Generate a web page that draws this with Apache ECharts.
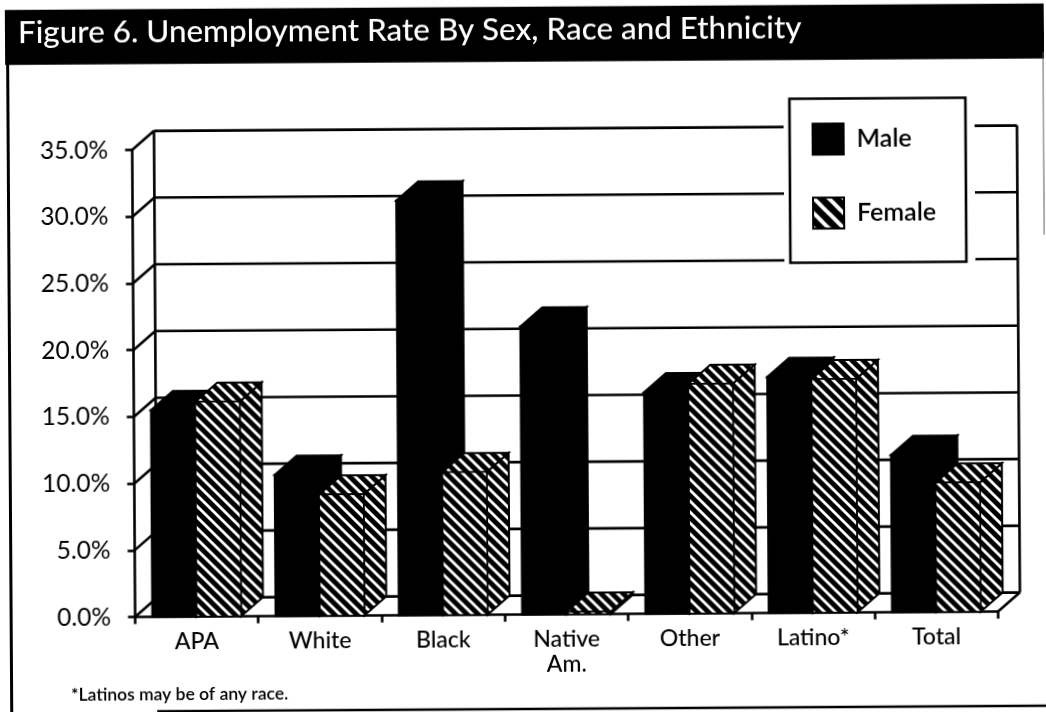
<!DOCTYPE html>
<html>
<head>
<meta charset="utf-8">
<style>
html,body{margin:0;padding:0;background:#fff;overflow:hidden}
#chart{width:1046px;height:712px;transform:rotate(-0.36deg);transform-origin:center}
</style>
<script src="https://cdn.jsdelivr.net/npm/echarts@6/dist/echarts.min.js"></script>
</head>
<body>
<div id="chart"></div>
<script>
var titleText = 'Figure 6. Unemployment Rate By Sex, Race and Ethnicity';
var footnote = '*Latinos may be of any race.';
var categories = ['APA', 'White', 'Black', 'Native\nAm.', 'Other', 'Latino*', 'Total'];
var maleValues = [15.5, 10.6, 31.1, 21.6, 16.6, 17.7, 11.8];
var femaleValues = [16.1, 9.1, 10.7, 0.2, 17.2, 17.5, 9.7];
var yTicks = [0, 5, 10, 15, 20, 25, 30, 35];

var FONT = 'Lato, "Open Sans", sans-serif';
var DX = 22, DY = -19;

function hatch(size, w) {
  var c = document.createElement('canvas');
  c.width = c.height = size;
  var g = c.getContext('2d');
  g.fillStyle = '#000';
  g.fillRect(0, 0, size, size);
  g.strokeStyle = '#fff';
  g.lineWidth = w;
  [-size, 0, size].forEach(function (o) {
    g.beginPath();
    g.moveTo(o - 1, -1);
    g.lineTo(o + size + 1, size + 1);
    g.stroke();
  });
  return c;
}
var barHatch = { image: hatch(11, 2.8), repeat: 'repeat' };
var legendHatch = { image: hatch(15, 4), repeat: 'repeat' };

function poly(points, fill, lw) {
  return { type: 'polygon', shape: { points: points },
    style: { fill: fill, stroke: '#000', lineWidth: lw, lineJoin: 'miter' } };
}

function barRenderer(side, fill) {
  return function (params, api) {
    var i = api.value(0), v = api.value(1);
    var base = api.coord([i, 0]), top = api.coord([i, v]);
    var band = api.size([1, 0])[0];
    var w = band * 0.36;
    var x0 = side < 0 ? base[0] - w : base[0];
    var x1 = x0 + w;
    var y0 = base[1], y1 = top[1];
    return { type: 'group', children: [
      poly([[x1, y0], [x1 + DX, y0 + DY], [x1 + DX, y1 + DY], [x1, y1]], fill, 2),
      poly([[x0, y1], [x0 + DX, y1 + DY], [x1 + DX, y1 + DY], [x1, y1]], fill, 2),
      poly([[x0, y0], [x1, y0], [x1, y1], [x0, y1]], fill, side < 0 ? 2 : 1.5)
    ] };
  };
}

function wallRenderer(params, api) {
  var v = api.value(0);
  var left = api.coord([0, v]);
  var band = api.size([1, 0])[0];
  var xl = left[0] - band / 2, xr = xl + band * categories.length;
  var y = left[1];
  var ls = { stroke: '#000', lineWidth: 2.6 };
  var kids = [
    { type: 'line', shape: { x1: xl, y1: y, x2: xl + DX, y2: y + DY }, style: ls },
    { type: 'line', shape: { x1: xl + DX, y1: y + DY, x2: xr + DX, y2: y + DY }, style: ls }
  ];
  if (v === yTicks[0]) {
    var yTop = api.coord([0, yTicks[yTicks.length - 1]])[1];
    kids.push({ type: 'line', shape: { x1: xr, y1: y, x2: xr + DX, y2: y + DY }, style: ls });
    kids.push({ type: 'line', shape: { x1: xl + DX, y1: y + DY, x2: xl + DX, y2: yTop + DY }, style: ls });
    kids.push({ type: 'line', shape: { x1: xr + DX, y1: y + DY, x2: xr + DX, y2: yTop + DY }, style: ls });
  }
  return { type: 'group', children: kids };
}

var chart = echarts.init(document.getElementById('chart'), null, { renderer: 'canvas' });
chart.setOption({
  animation: false,
  backgroundColor: '#fff',
  title: [
    { text: titleText, left: 20, top: 14, padding: 0, z: 10,
      textStyle: { color: '#fff', fontFamily: FONT, fontWeight: 500, fontSize: 31.4 } },
    { text: footnote, left: 69, top: 683, padding: 0,
      textStyle: { color: '#000', fontFamily: FONT, fontWeight: 600, fontSize: 17.5 } }
  ],
  grid: { left: 133.4, right: 49.6, top: 147.6, bottom: 97.4 },
  xAxis: {
    type: 'category', data: categories, boundaryGap: true,
    axisLine: { lineStyle: { color: '#000', width: 2.6 } },
    axisTick: { show: true, length: 7, lineStyle: { color: '#000', width: 2.6 } },
    axisLabel: { color: '#000', fontFamily: FONT, fontSize: 23, fontWeight: 500, margin: 12, lineHeight: 25, interval: 0 }
  },
  yAxis: {
    type: 'value', min: 0, max: 35, interval: 5,
    splitLine: { show: false },
    axisLine: { show: true, lineStyle: { color: '#000', width: 2.6 } },
    axisTick: { show: true, length: 7, lineStyle: { color: '#000', width: 2.6 } },
    axisLabel: { color: '#000', fontFamily: FONT, fontSize: 24.5, margin: 24,
      formatter: function (v) { return v.toFixed(1) + '%'; } }
  },
  legend: {
    orient: 'vertical', left: 791, top: 100.5, z: 8,
    padding: [24, 30, 33, 22],
    itemWidth: 31, itemHeight: 31, itemGap: 41,
    backgroundColor: '#fff', borderColor: '#000', borderWidth: 2.6,
    selectedMode: false,
    textStyle: { color: '#000', fontFamily: FONT, fontWeight: 600, fontSize: 25, padding: [7, 0, 0, 8] },
    data: [
      { name: 'Male', icon: 'rect', itemStyle: { color: '#000', borderColor: '#000', borderWidth: 2 } },
      { name: 'Female', icon: 'rect', itemStyle: { color: legendHatch, borderColor: '#000', borderWidth: 2 } }
    ]
  },
  graphic: [
    { type: 'rect', z: -1, shape: { x: 7, y: 6.7, width: 1060, height: 55 }, style: { fill: '#000' } },
    { type: 'line', z: -1, shape: { x1: 9.5, y1: 55, x2: 9.5, y2: 730 }, style: { stroke: '#000', lineWidth: 3 } },
    { type: 'line', z: -1, shape: { x1: 1045, y1: 55, x2: 1045, y2: 238 }, style: { stroke: '#555', lineWidth: 1 } },
    { type: 'line', z: -1, shape: { x1: 155, y1: 709, x2: 1060, y2: 709 }, style: { stroke: '#000', lineWidth: 2.5 } },
    { type: 'rect', z: 6, shape: { x: 785, y: 92, width: 191, height: 174 }, style: { fill: '#fff' } }
  ],
  series: [
    { type: 'custom', name: 'Wall', z: 1, silent: true, renderItem: wallRenderer,
      encode: { y: 0 }, data: yTicks.map(function (v) { return [v]; }) },
    { type: 'custom', name: 'Male', z: 3, silent: true, renderItem: barRenderer(-1, '#000'),
      encode: { x: 0, y: 1 }, itemStyle: { color: '#000' },
      data: maleValues.map(function (v, i) { return [i, v]; }) },
    { type: 'custom', name: 'Female', z: 4, silent: true, renderItem: barRenderer(1, barHatch),
      encode: { x: 0, y: 1 }, itemStyle: { color: '#000' },
      data: femaleValues.map(function (v, i) { return [i, v]; }) }
  ]
});
</script>
</body>
</html>
